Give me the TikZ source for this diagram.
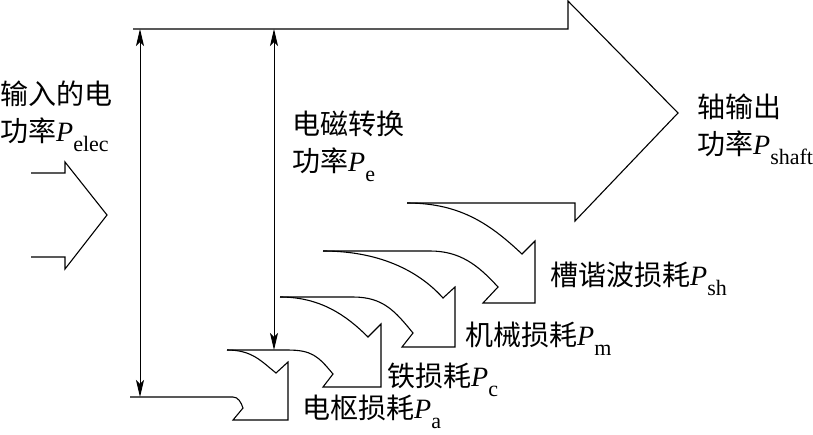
\documentclass[tikz,border=0pt]{standalone}
\usepackage{fontspec}
\setmainfont{Liberation Serif}
\newfontfamily\cjk{Noto Sans CJK SC}
\newfontfamily\tms{Liberation Serif}
\usetikzlibrary{arrows.meta}

\newcommand{\pwr}[1]{{\tms\itshape P}\raisebox{-10pt}{\tms\fontsize{22}{22}\selectfont #1}}

\tikzset{
  flow/.style={line width=1.1pt, line join=miter},
  dimline/.style={line width=0.9pt, {Stealth[length=17pt,width=8pt,inset=4pt]}-{Stealth[length=17pt,width=8pt,inset=4pt]}},
  lbl/.style={font=\cjk\fontsize{28}{37}\selectfont, inner sep=0pt, align=left}
}

\begin{document}
\begin{tikzpicture}[x=1pt, y=-1pt]
    \useasboundingbox (0,0) rectangle (813,434);

    \draw[flow] (133,29) -- (568,29) -- (568,1) -- (678,113) -- (575,221) -- (575,203) -- (407,203);
    \draw[flow] (407,203) .. controls +(55,0) and +(-30,-28) .. (522,254) -- (535,241) -- (535,303) -- (483,303) -- (498,287) .. controls +(-20,-22) and +(30,0) .. (430,251) -- (323,251);
    \draw[flow] (323,251) .. controls +(55,0) and +(-25,-28) .. (443,298) -- (455,287) -- (455,347) -- (402,347) -- (413,333) .. controls +(-18,-22) and +(30,0) .. (353,297) -- (280,297);
    \draw[flow] (280,297) .. controls +(40,0) and +(-22,-22) .. (368,337) -- (381,324) -- (381,387) -- (323,387) -- (333,374) .. controls +(-15,-18) and +(25,0) .. (287,350) -- (227,350);
    \draw[flow] (227,350) .. controls +(25,0) and +(-15,-12) .. (276,373) -- (288,362) -- (288,420) -- (233,420) -- (243,408) .. controls +(-2,-6) and +(5,0) .. (233,397) -- (130,397);

    \draw[flow] (31,173) -- (65,173) -- (65,162) -- (107,215) -- (65,269) -- (65,257) -- (31,257);

    \coordinate (elecTop) at (140,29);
    \coordinate (elecBot) at (140,397);
    \coordinate (emTop) at (274,29);
    \coordinate (emBot) at (274,350);
    \draw[dimline] (elecTop) -- (elecBot);
    \draw[dimline] (emTop) -- (emBot);

    \node[lbl, anchor=north west] (elec) at (0,81) {输入的电\\功率\pwr{elec}};
    \node[lbl, anchor=north west] (em) at (292,111) {电磁转换\\功率\pwr{e}};
    \node[lbl, anchor=north west] (shaft) at (697,94) {轴输出\\功率\pwr{shaft}};
    \node[lbl, anchor=base west] (lossSh) at (550,285) {槽谐波损耗\pwr{sh}};
    \node[lbl, anchor=base west] (lossM) at (465,345) {机械损耗\pwr{m}};
    \node[lbl, anchor=base west] (lossC) at (387,386) {铁损耗\pwr{c}};
    \node[lbl, anchor=base west] (lossA) at (302,418) {电枢损耗\pwr{a}};
\end{tikzpicture}
\end{document}
